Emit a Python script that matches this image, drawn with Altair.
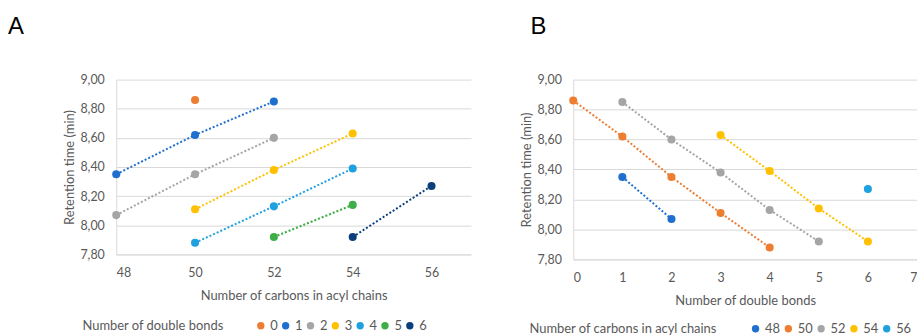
import altair as alt
import pandas as pd

# Data
carbons = [50, 48, 50, 52, 48, 50, 52, 50, 52, 54, 50, 52, 54, 52, 54, 54, 56]
double_bonds = [0, 1, 1, 1, 2, 2, 2, 3, 3, 3, 4, 4, 4, 5, 5, 6, 6]
retention = [8.86, 8.35, 8.62, 8.85, 8.07, 8.35, 8.60, 8.11, 8.38, 8.63,
             7.88, 8.13, 8.39, 7.92, 8.14, 7.92, 8.27]

db_levels = ["0", "1", "2", "3", "4", "5", "6"]
db_colors = ["#ED7D31", "#1F6FCF", "#A5A5A5", "#FFC000", "#1FA0DF", "#3FAE49", "#0B3F7C"]
c_levels = ["48", "50", "52", "54", "56"]
c_colors = ["#1F6FCF", "#ED7D31", "#A5A5A5", "#FFC000", "#1FA0DF"]

y_ticks = [7.8, 8.0, 8.2, 8.4, 8.6, 8.8, 9.0]
xa_ticks = [48, 50, 52, 54, 56]
xb_ticks = [0, 1, 2, 3, 4, 5, 6, 7]

df = pd.DataFrame({
    "carbons": carbons,
    "db": double_bonds,
    "rt": retention,
})
df["db_s"] = df["db"].astype(str)
df["c_s"] = df["carbons"].astype(str)

FONT = "Lato"
GREY = "#595959"
LABEL_EXPR = "replace(format(datum.value, '.2f'), '.', ',')"


def yaxis():
    return alt.Y("rt:Q",
                 scale=alt.Scale(domain=[7.8, 9.0], nice=False, zero=False),
                 axis=alt.Axis(values=y_ticks, labelExpr=LABEL_EXPR,
                               title="Retention time (min)", titlePadding=3,
                               labelPadding=12, ticks=False, grid=True,
                               gridColor="#D9D9D9", domainColor="#D9D9D9"))


# Panel A
xA = alt.X("carbons:Q",
           scale=alt.Scale(domain=[48, 57], nice=False, zero=False),
           axis=alt.Axis(values=xa_ticks, title="Number of carbons in acyl chains",
                         grid=False, ticks=False, labelPadding=12, titlePadding=11,
                         domainColor="#D9D9D9"))
colA = alt.Color("db_s:N", scale=alt.Scale(domain=db_levels, range=db_colors),
                 legend=alt.Legend(title="Number of double bonds", orient="none",
                                   legendX=-34, legendY=241, direction="horizontal",
                                   titleOrient="left", titlePadding=30, titleLimit=300,
                                   columnPadding=1, labelOffset=3,
                                   symbolType="circle", symbolSize=55,
                                   symbolStrokeWidth=0))
baseA = alt.Chart(df).encode(x=xA, y=yaxis(), color=colA)
lineA = baseA.mark_line(strokeDash=[2, 2], strokeWidth=2).encode(
    detail="db_s:N", order="carbons:Q")
ptA = baseA.mark_circle(size=66, opacity=1)
panelA = alt.layer(lineA, ptA).properties(
    width=357, height=176,
    title=alt.TitleParams("A", anchor="start", frame="group", fontSize=24,
                          font="Liberation Sans", fontWeight="normal",
                          color="black", baseline="alphabetic", offset=16, dx=-109))

# Panel B
xB = alt.X("db:Q",
           scale=alt.Scale(domain=[0, 7], nice=False, zero=False),
           axis=alt.Axis(values=xb_ticks, title="Number of double bonds",
                         grid=False, ticks=False, labelPadding=12, titlePadding=11,
                         domainColor="#D9D9D9"))
colB = alt.Color("c_s:N", scale=alt.Scale(domain=c_levels, range=c_colors),
                 legend=alt.Legend(title="Number of carbons in acyl chains", orient="none",
                                   legendX=-44, legendY=244, direction="horizontal",
                                   titleOrient="left", titlePadding=32, titleLimit=300,
                                   columnPadding=1, labelOffset=3,
                                   symbolType="circle", symbolSize=55,
                                   symbolStrokeWidth=0))
baseB = alt.Chart(df).encode(x=xB, y=yaxis(), color=colB)
lineB = baseB.mark_line(strokeDash=[2, 2], strokeWidth=2).encode(
    detail="c_s:N", order="db:Q")
ptB = baseB.mark_circle(size=66, opacity=1)
panelB = alt.layer(lineB, ptB).properties(
    width=346, height=181,
    title=alt.TitleParams("B", anchor="start", frame="group", fontSize=24,
                          font="Liberation Sans", fontWeight="normal",
                          color="black", baseline="alphabetic", offset=16, dx=-43))

chart = alt.hconcat(panelA, panelB, spacing=50).resolve_scale(
    color="independent", x="independent", y="independent"
).properties(
    padding={"left": 8, "top": 14, "right": 0, "bottom": 0},
    background="white",
).configure_view(stroke=None).configure_axis(
    labelFont=FONT, titleFont=FONT, labelColor=GREY, titleColor=GREY,
    labelFontSize=12.5, titleFontSize=13, titleFontWeight="normal",
).configure_legend(
    labelFont=FONT, titleFont=FONT, labelColor=GREY, titleColor=GREY,
    labelFontSize=13, titleFontSize=13, titleFontWeight="normal",
)

chart.save("out.html", embed_options={"renderer": "svg", "actions": False})
